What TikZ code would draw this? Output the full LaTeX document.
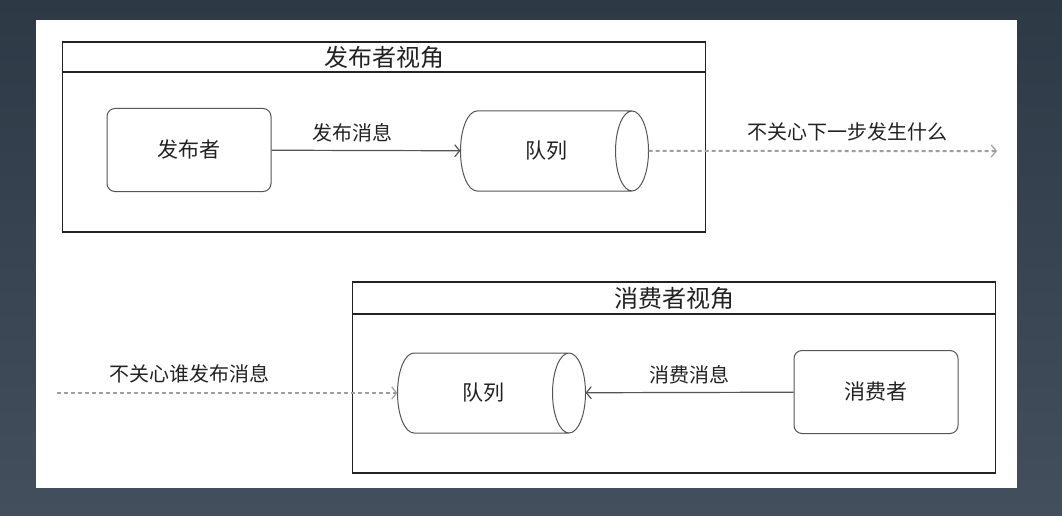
\documentclass[tikz,border=0pt]{standalone}
\usepackage{fontspec}
\setmainfont{Noto Sans CJK SC}
\usetikzlibrary{shapes.geometric,positioning,arrows.meta}
\definecolor{bgtop}{HTML}{2E3946}
\definecolor{bgbot}{HTML}{434F5D}
\definecolor{edge}{HTML}{555555}
\definecolor{ink}{HTML}{222222}

\begin{document}
\begin{tikzpicture}[x=1pt, y=-1pt, thick,
    frame/.style={draw=ink, line width=1.1pt, rectangle, outer sep=0pt, inner sep=0pt, minimum width=643pt},
    heading/.style={font=\fontsize{24}{26}\selectfont, text=ink},
    roundbox/.style={draw=edge, line width=1pt, rectangle, rounded corners=8pt, minimum width=164pt, minimum height=83pt, font=\fontsize{21}{24}\selectfont, text=ink},
    queue/.style={draw=edge, line width=1pt, cylinder, shape aspect=1.7, minimum width=80pt, minimum height=188pt, inner sep=0pt, outer sep=0pt, font=\fontsize{21}{24}\selectfont, text=ink},
    msg/.style={draw=edge, line width=1.2pt, -{Straight Barb[length=5pt,width=12pt]}},
    careless/.style={draw=gray!75, line width=2pt, dash pattern=on 4pt off 3pt, -{Straight Barb[length=5pt,width=12pt,line width=1.2pt]}},
    lbl/.style={font=\fontsize{20}{22}\selectfont, text=ink}]
        \useasboundingbox (0,0) rectangle (1062,516);
        \fill[top color=bgtop, bottom color=bgbot] (0,0) rectangle (1062,516);
        \fill[white] (36,20) rectangle (1017,488);

        % Nodes
        \node (pubtitle) [frame, heading, minimum height=30pt] at (384,57) {发布者视角};
        \node (pubbody) [frame, minimum height=160pt, below=0pt of pubtitle] {};
        \node (publisher) [roundbox] at (189,150) {发布者};
        \node (queueA) [queue] at (546,151) {队列};
        \coordinate (nextstep) at (997,151);

        \node (contitle) [frame, heading, minimum height=32pt] at (674,298) {消费者视角};
        \node (conbody) [frame, minimum height=159pt, below=0pt of contitle] {};
        \node (consumer) [roundbox] at (876,392) {消费者};
        \node (queueB) [queue] at (483,393) {队列};
        \coordinate (whopub) at (57,393);

        % Edges
        \draw[msg] (publisher) -- node[lbl, above=4pt, pos=0.43] {发布消息} (queueA);
        \draw[careless] (queueA) -- node[lbl, above=6pt, pos=0.57] {不关心下一步发生什么} (nextstep);
        \draw[msg] (consumer) -- node[lbl, above=4pt] {消费消息} (queueB);
        \draw[careless] (whopub) -- node[lbl, above=6pt, pos=0.39] {不关心谁发布消息} (queueB);
    \end{tikzpicture}
\end{document}
